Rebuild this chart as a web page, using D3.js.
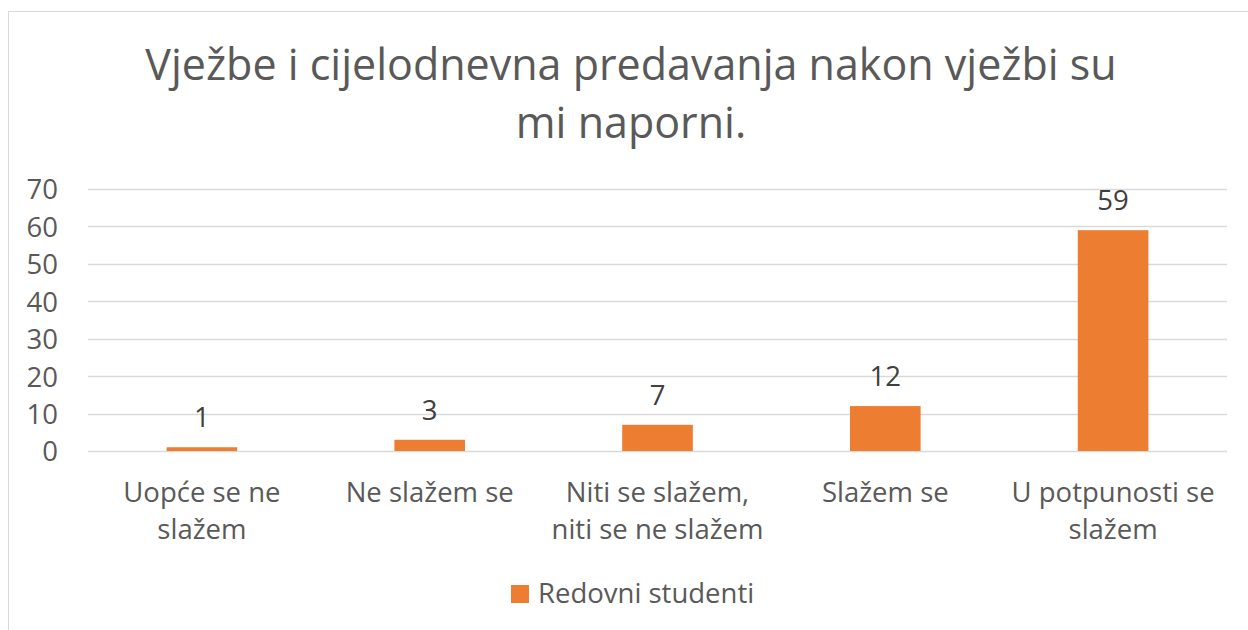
<!DOCTYPE html>
<html><head><meta charset="utf-8">
<script src="https://cdn.jsdelivr.net/npm/d3@7"></script>
<style>body{margin:0;background:#fff}svg{display:block}</style>
</head><body>
<svg id="c" width="1248" height="630"></svg>
<script>
const titleLines = ["Vježbe i cijelodnevna predavanja nakon vježbi su", "mi naporni."];
const categories = ["Uopće se ne slažem", "Ne slažem se", "Niti se slažem, niti se ne slažem", "Slažem se", "U potpunosti se slažem"];
const categoryLines = [["Uopće se ne", "slažem"], ["Ne slažem se"], ["Niti se slažem,", "niti se ne slažem"], ["Slažem se"], ["U potpunosti se", "slažem"]];
const seriesName = "Redovni studenti";
const values = [1, 3, 7, 12, 59];
const yTicks = [0, 10, 20, 30, 40, 50, 60, 70];

const FONT = "'Open Sans', sans-serif";
const LS = "27.5px";
const svg = d3.select("#c");
svg.append("rect").attr("x", 8.5).attr("y", 11.5).attr("width", 1260).attr("height", 640)
  .attr("fill", "#fff").attr("stroke", "#d9d9d9").attr("stroke-width", 1);

const L = 88, R = 1227, T = 189, B = 451;
const x = d3.scaleBand().domain(categories).range([L, R]).paddingInner(0.69).paddingOuter(0.345);
const y = d3.scaleLinear().domain([0, 70]).range([B, T]);

// title
svg.append("g").selectAll("text").data(titleLines).join("text")
  .attr("x", 631).attr("y", (d, i) => 80 + i * 58)
  .attr("text-anchor", "middle").attr("fill", "#595959")
  .style("font-family", FONT).style("font-size", "43px").text(d => d);

// gridlines
svg.append("g").selectAll("line").data(yTicks).join("line")
  .attr("x1", L).attr("x2", R).attr("y1", d => Math.round(y(d)) + 0.5).attr("y2", d => Math.round(y(d)) + 0.5)
  .attr("stroke", "#d9d9d9").attr("stroke-width", 1.3);

// y axis labels
const yAxis = d3.axisLeft(y).tickValues(yTicks).tickSize(0).tickPadding(0);
const ya = svg.append("g").attr("transform", "translate(58,0)").call(yAxis);
ya.select(".domain").remove();
ya.selectAll("text").attr("fill", "#595959").style("font-family", FONT).style("font-size", LS).attr("dy", "0.36em");

// bars
svg.append("g").selectAll("rect").data(values).join("rect")
  .attr("x", (d, i) => x(categories[i])).attr("width", x.bandwidth())
  .attr("y", d => y(d)).attr("height", d => B - y(d)).attr("fill", "#ED7D31");

// data labels
svg.append("g").selectAll("text").data(values).join("text")
  .attr("x", (d, i) => x(categories[i]) + x.bandwidth() / 2).attr("y", d => y(d) - 20)
  .attr("text-anchor", "middle").attr("fill", "#404040")
  .style("font-family", FONT).style("font-size", LS).text(d => d);

// x labels
const xg = svg.append("g");
categoryLines.forEach((lines, i) => {
  xg.append("g").selectAll("text").data(lines).join("text")
    .attr("x", x(categories[i]) + x.bandwidth() / 2).attr("y", (d, j) => 502 + j * 37)
    .attr("text-anchor", "middle").attr("fill", "#595959")
    .style("font-family", FONT).style("font-size", LS).text(d => d);
});

// legend
svg.append("rect").attr("x", 511).attr("y", 585).attr("width", 18).attr("height", 18).attr("fill", "#ED7D31");
svg.append("text").attr("x", 538).attr("y", 603).attr("fill", "#595959")
  .style("font-family", FONT).style("font-size", LS).text(seriesName);
</script>
</body></html>
